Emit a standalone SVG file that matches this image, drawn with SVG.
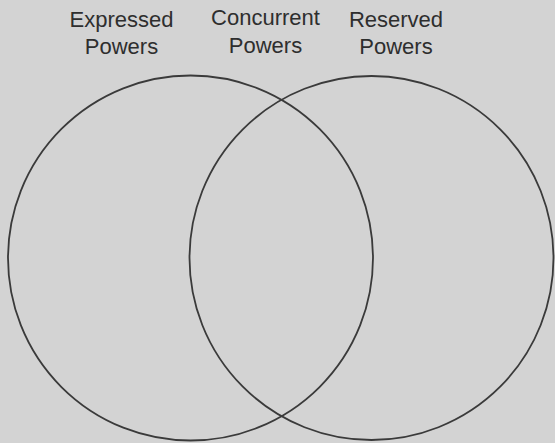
<svg xmlns="http://www.w3.org/2000/svg" width="555" height="443" viewBox="0 0 555 443">
<style>
.lbl{font-family:"Liberation Sans",Arial,sans-serif;font-size:22px;fill:#2e2e2e;text-anchor:middle}
.c{fill:none;stroke:#3a3a3a;stroke-width:1.8}
</style>
<rect width="555" height="443" fill="#d3d3d3"/>
<g id="expressed-label"><text class="lbl" x="121.5" y="27">Expressed</text><text class="lbl" x="121.5" y="54">Powers</text></g>
<g id="concurrent-label"><text class="lbl" x="265.5" y="25">Concurrent</text><text class="lbl" x="265.5" y="53">Powers</text></g>
<g id="reserved-label"><text class="lbl" x="396" y="27">Reserved</text><text class="lbl" x="396" y="54">Powers</text></g>
<g id="left-circle"><circle class="c" cx="190.5" cy="258" r="182.5"/></g>
<g id="right-circle"><circle class="c" cx="371.5" cy="258" r="182"/></g>
</svg>
